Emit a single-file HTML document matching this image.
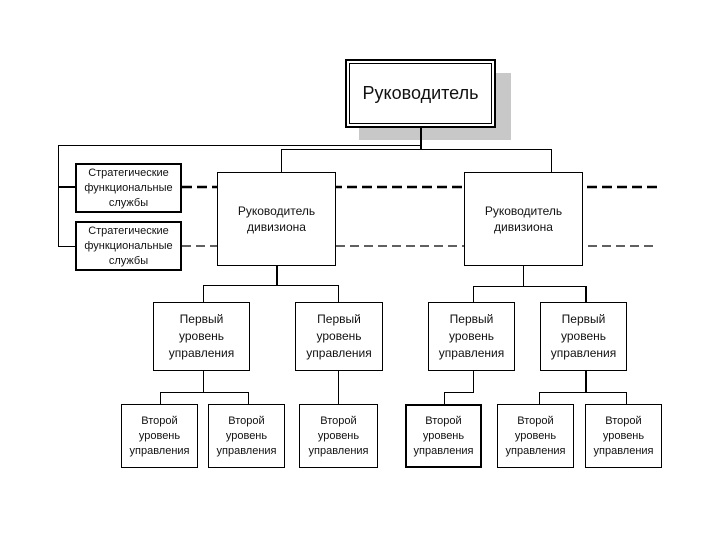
<!DOCTYPE html>
<html><head><meta charset="utf-8"><style>
body{margin:0;background:#fff;}
#c{position:relative;width:720px;height:540px;overflow:hidden;font-family:"Liberation Sans",sans-serif;color:#111;}
.b{position:absolute;border:1px solid #000;background:#fff;box-sizing:border-box;display:flex;align-items:center;justify-content:center;text-align:center;font-size:11px;line-height:15px;}
.h{position:absolute;background:#000;height:1px;}
.v{position:absolute;background:#000;width:1px;}
</style></head><body><div id="c">
<div style="position:absolute;left:359px;top:73px;width:152px;height:67px;background:#c8c8c8"></div>
<div class="b" style="left:345px;top:59px;width:151px;height:69px;border:2px solid #000;"><div style="position:absolute;left:2px;top:2px;right:2px;bottom:2px;border:1px solid #000"></div><span style="font-size:18px">Руководитель</span></div>
<div class="v" style="left:420px;top:128px;height:21px;width:2px"></div>
<div class="h" style="left:58px;top:145px;width:363px"></div>
<div class="h" style="left:281px;top:149px;width:271px"></div>
<div class="v" style="left:58px;top:145px;height:102px"></div>
<div class="v" style="left:281px;top:149px;height:23px"></div>
<div class="v" style="left:551px;top:149px;height:23px"></div>
<div class="h" style="left:58px;top:186px;width:17px;height:2px"></div>
<div class="h" style="left:58px;top:246px;width:17px"></div>
<svg style="position:absolute;left:0;top:0" width="720" height="540">
<line x1="182" y1="187" x2="657" y2="187" stroke="#000" stroke-width="2.5" stroke-dasharray="10,5"/>
<line x1="182" y1="246" x2="657" y2="246" stroke="#000" stroke-width="1.2" stroke-dasharray="9,5"/>
</svg>
<div class="b" style="left:75px;top:163px;width:107px;height:50px;border-width:2px">Стратегические<br>функциональные<br>службы</div>
<div class="b" style="left:75px;top:221px;width:107px;height:50px;border-width:2px">Стратегические<br>функциональные<br>службы</div>
<div class="b" style="left:217px;top:172px;width:119px;height:94px;font-size:12px;line-height:16px">Руководитель<br>дивизиона</div>
<div class="b" style="left:464px;top:172px;width:119px;height:94px;font-size:12px;line-height:16px">Руководитель<br>дивизиона</div>
<div class="v" style="left:276px;top:266px;height:19px;width:2px"></div>
<div class="h" style="left:203px;top:285px;width:136px"></div>
<div class="v" style="left:203px;top:285px;height:17px"></div>
<div class="v" style="left:338px;top:285px;height:17px"></div>
<div class="v" style="left:523px;top:266px;height:21px"></div>
<div class="h" style="left:473px;top:286px;width:113px"></div>
<div class="v" style="left:473px;top:286px;height:16px"></div>
<div class="v" style="left:585px;top:286px;height:16px;width:2px"></div>
<div class="b" style="left:153px;top:302px;width:97px;height:69px;font-size:12px;line-height:17px">Первый<br>уровень<br>управления</div>
<div class="b" style="left:295px;top:302px;width:88px;height:69px;font-size:12px;line-height:17px">Первый<br>уровень<br>управления</div>
<div class="b" style="left:428px;top:302px;width:87px;height:69px;font-size:12px;line-height:17px">Первый<br>уровень<br>управления</div>
<div class="b" style="left:540px;top:302px;width:87px;height:69px;font-size:12px;line-height:17px">Первый<br>уровень<br>управления</div>
<div class="v" style="left:203px;top:371px;height:21px"></div>
<div class="h" style="left:160px;top:392px;width:89px"></div>
<div class="v" style="left:160px;top:392px;height:12px"></div>
<div class="v" style="left:248px;top:392px;height:12px"></div>
<div class="v" style="left:338px;top:371px;height:33px"></div>
<div class="v" style="left:473px;top:371px;height:22px"></div>
<div class="h" style="left:444px;top:392px;width:30px"></div>
<div class="v" style="left:444px;top:392px;height:12px"></div>
<div class="v" style="left:585px;top:371px;height:22px;width:2px"></div>
<div class="h" style="left:539px;top:392px;width:88px"></div>
<div class="v" style="left:539px;top:392px;height:12px"></div>
<div class="v" style="left:626px;top:392px;height:12px"></div>
<div class="b" style="left:121px;top:404px;width:77px;height:64px">Второй<br>уровень<br>управления</div>
<div class="b" style="left:208px;top:404px;width:77px;height:64px">Второй<br>уровень<br>управления</div>
<div class="b" style="left:299px;top:404px;width:79px;height:64px">Второй<br>уровень<br>управления</div>
<div class="b" style="left:405px;top:404px;width:77px;height:64px;border-width:2px">Второй<br>уровень<br>управления</div>
<div class="b" style="left:497px;top:404px;width:77px;height:64px">Второй<br>уровень<br>управления</div>
<div class="b" style="left:585px;top:404px;width:77px;height:64px">Второй<br>уровень<br>управления</div>
</div></body></html>
